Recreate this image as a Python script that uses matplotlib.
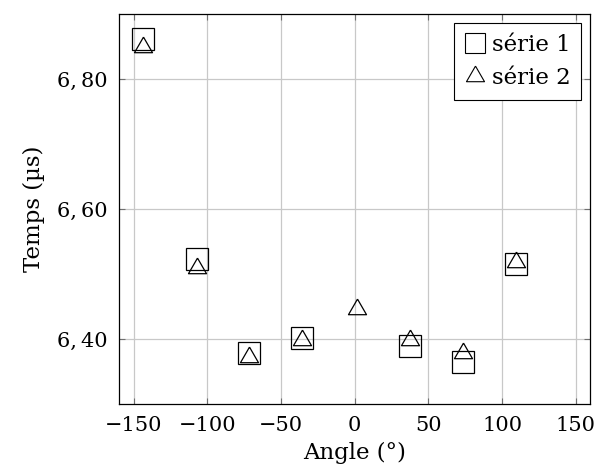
import matplotlib
matplotlib.use("Agg")
import matplotlib.pyplot as plt
from matplotlib.lines import Line2D
from matplotlib.ticker import FuncFormatter

# --- Data ---
angle_s1 = [-143.4, -107.2, -71.5, -35.5, 37.4, 73.6, 109.5]
temps_s1 = [6.862, 6.523, 6.378, 6.402, 6.390, 6.365, 6.515]

angle_s2 = [-143.4, -107.2, -71.5, -35.5, 1.8, 37.4, 73.6, 109.5]
temps_s2 = [6.850, 6.509, 6.373, 6.398, 6.446, 6.399, 6.378, 6.519]

x_ticks = [-150, -100, -50, 0, 50, 100, 150]
y_ticks = [6.40, 6.60, 6.80]

plt.rcParams['font.family'] = ['DejaVu Serif']
plt.rcParams['mathtext.fontset'] = 'dejavuserif'
FS = 16.5
FS_TICK = 15

# equilateral triangle (pgfplots style), centred on circumcentre
TRI = [(0, 1), (-0.866, -0.5), (0.866, -0.5), (0, 1)]

fig = plt.figure(figsize=(5.96, 4.76), dpi=100)
ax = fig.add_axes([0.2005, 0.1513, 0.7894, 0.8187])

ax.plot(angle_s1, temps_s1, linestyle='none', marker='s', markersize=15.8,
        markerfacecolor='none', markeredgecolor='black', markeredgewidth=0.9,
        zorder=3)
ax.plot(angle_s2, temps_s2, linestyle='none', marker=TRI, markersize=15,
        markerfacecolor='none', markeredgecolor='black', markeredgewidth=0.9,
        zorder=3)

ax.set_xlim(-159.6, 159.6)
ax.set_ylim(6.30, 6.90)
ax.set_xticks(x_ticks)
ax.set_yticks(y_ticks)
ax.yaxis.set_major_formatter(FuncFormatter(lambda v, p: f"{v:.2f}".replace('.', ',\u2009')))
ax.xaxis.set_major_formatter(FuncFormatter(lambda v, p: f"{v:.0f}".replace('-', '\u2212')))

ax.grid(True, color='#c8c8c8', linewidth=0.9)
ax.set_axisbelow(True)
ax.tick_params(direction='in', length=4, width=0.8, color='#707070',
               top=True, right=True, labelsize=FS_TICK, pad=8.5)
for sp in ax.spines.values():
    sp.set_linewidth(0.9)

ax.set_xlabel('Angle (°)', fontsize=FS, labelpad=5)
ax.set_ylabel('Temps (µs)', fontsize=FS, labelpad=9)

handles = [
    Line2D([], [], linestyle='none', marker='s', markersize=13.7,
           markerfacecolor='none', markeredgecolor='black', markeredgewidth=0.8),
    Line2D([], [], linestyle='none', marker=TRI, markersize=15,
           markerfacecolor='none', markeredgecolor='black', markeredgewidth=0.8),
]
leg = ax.legend(handles, ['série 1', 'série 2'], loc='upper right', fontsize=FS,
                fancybox=False, framealpha=1, edgecolor='black',
                handlelength=0.9, handletextpad=0.3, borderpad=0.45,
                labelspacing=0.5, borderaxespad=0.4)
leg.get_frame().set_linewidth(0.8)

fig.savefig('out.png', dpi=100)
